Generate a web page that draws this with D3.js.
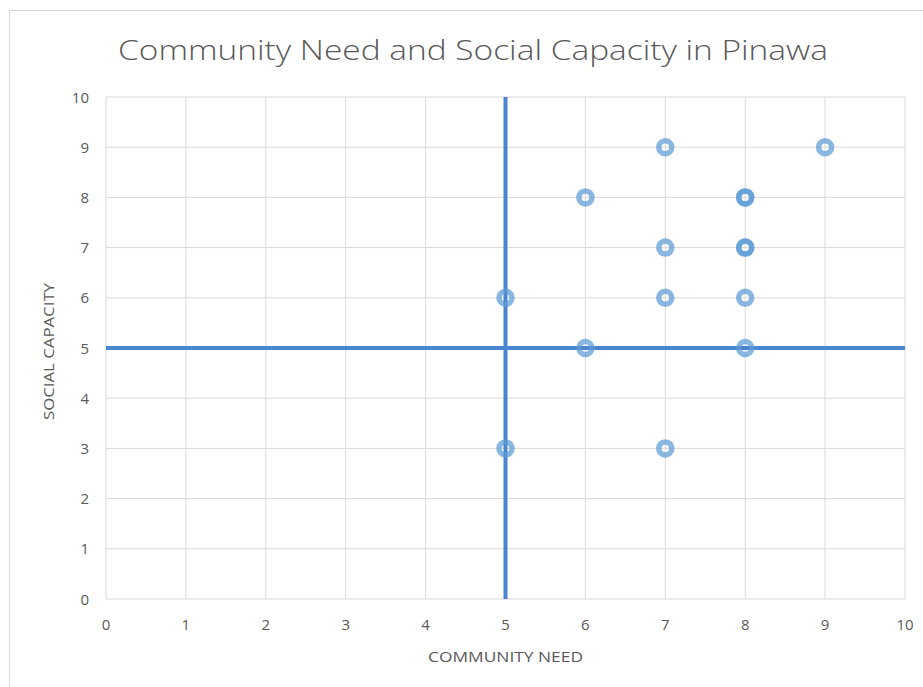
<!DOCTYPE html>
<html>
<head>
<meta charset="utf-8">
<script src="https://cdn.jsdelivr.net/npm/d3@7"></script>
<style>
  body { margin: 0; background: #fff; }
  text { font-family: "Open Sans", Lato, "Liberation Sans", sans-serif; fill: #595959; }
</style>
</head>
<body>
<script>
// Scores per respondent (duplicates overlap and look darker)
const communityNeed  = [7, 9, 6, 8, 8, 7, 8, 8, 5, 7, 8, 6, 8, 5, 7];
const socialCapacity = [9, 9, 8, 8, 8, 7, 7, 7, 6, 6, 6, 5, 5, 3, 3];
const xTicks = [0, 1, 2, 3, 4, 5, 6, 7, 8, 9, 10];
const yTicks = [0, 1, 2, 3, 4, 5, 6, 7, 8, 9, 10];
const needThreshold = 5;
const capacityThreshold = 5;

const width = 923, height = 687;
const margin = { top: 97, right: 18, bottom: 88, left: 106 };

const svg = d3.select('body').append('svg')
    .attr('width', width)
    .attr('height', height);

// Chart border
svg.append('rect')
    .attr('x', 9.5).attr('y', 10.5)
    .attr('width', width + 10).attr('height', height + 10)
    .attr('fill', 'none')
    .attr('stroke', '#d9d9d9');

const x = d3.scaleLinear().domain([0, 10]).range([margin.left, width - margin.right]);
const y = d3.scaleLinear().domain([0, 10]).range([height - margin.bottom, margin.top]);

// Gridlines
svg.append('g').selectAll('line').data(xTicks).join('line')
    .attr('x1', d => x(d)).attr('x2', d => x(d))
    .attr('y1', y(0)).attr('y2', y(10))
    .attr('stroke', '#d9d9d9').attr('stroke-width', 1);
svg.append('g').selectAll('line').data(yTicks).join('line')
    .attr('x1', x(0)).attr('x2', x(10))
    .attr('y1', d => y(d)).attr('y2', d => y(d))
    .attr('stroke', '#d9d9d9').attr('stroke-width', 1);

// Tick labels
svg.append('g').selectAll('text').data(xTicks).join('text')
    .attr('x', d => x(d)).attr('y', y(0) + 31)
    .attr('text-anchor', 'middle')
    .style('font-size', '15px')
    .text(d => d);
svg.append('g').selectAll('text').data(yTicks).join('text')
    .attr('x', x(0) - 17).attr('y', d => y(d) + 5.5)
    .attr('text-anchor', 'end')
    .style('font-size', '15px')
    .text(d => d);

// Quadrant lines
svg.append('line')
    .attr('x1', x(needThreshold)).attr('x2', x(needThreshold))
    .attr('y1', y(10)).attr('y2', y(0))
    .attr('stroke', '#4a86cf').attr('stroke-width', 4);
svg.append('line')
    .attr('x1', x(0)).attr('x2', x(10))
    .attr('y1', y(capacityThreshold)).attr('y2', y(capacityThreshold))
    .attr('stroke', '#4a86cf').attr('stroke-width', 4);

// Points
svg.append('g').selectAll('circle').data(communityNeed).join('circle')
    .attr('cx', d => x(d))
    .attr('cy', (d, i) => y(socialCapacity[i]))
    .attr('r', 6.5)
    .attr('fill', 'none')
    .attr('stroke', '#5b9bd5')
    .attr('stroke-opacity', 0.72)
    .attr('stroke-width', 5.5);

// Titles
svg.append('text')
    .attr('x', 118).attr('y', 60)
    .attr('textLength', 710)
    .attr('lengthAdjust', 'spacingAndGlyphs')
    .style('font-size', '28px')
    .style('font-weight', 300)
    .text('Community Need and Social Capacity in Pinawa');

svg.append('text')
    .attr('x', 428).attr('y', 662)
    .attr('textLength', 155)
    .attr('lengthAdjust', 'spacingAndGlyphs')
    .style('font-size', '15px')
    .text('COMMUNITY NEED');

svg.append('text')
    .attr('transform', `translate(54, 420) rotate(-90)`)
    .attr('textLength', 137)
    .attr('lengthAdjust', 'spacingAndGlyphs')
    .style('font-size', '15px')
    .text('SOCIAL CAPACITY');
</script>
</body>
</html>
